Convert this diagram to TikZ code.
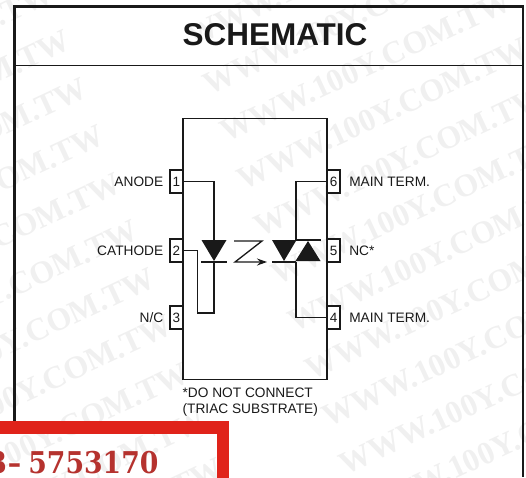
\documentclass[tikz,border=0pt]{standalone}
\usepackage{fontspec}
\setmainfont{Liberation Sans}
\newfontfamily\markfont{Liberation Serif}
\newfontfamily\phonefont{DejaVu Serif}
\usetikzlibrary{arrows.meta, positioning}
\definecolor{signred}{HTML}{E0231A}
\definecolor{phonered}{HTML}{B5322E}
\tikzset{
    pinbox/.style = {draw, rectangle, inner sep = 0pt, minimum width = 13pt, minimum height = 23pt, font = \fontsize{13.5}{15}\selectfont},
    pinlabel/.style = {inner sep = 0pt, font = \fontsize{13.7}{15}\selectfont},
    wire/.style = {line width = 1.3pt},
    watermark/.style = {text = black!6, anchor = north east, inner sep = 0pt, rotate = 25, font = \markfont\bfseries\fontsize{32}{32}\selectfont}
}

\begin{document}
\begin{tikzpicture}[x = 1pt, y = -1pt, line width = 1.3pt, black!90]
                \useasboundingbox (0,0) rectangle (526,477);

                % Watermark:
                \foreach \k in {-1,...,9}
                    \node[watermark] (markA\k) at ({64+17*\k},{28+47.5*\k}) {WWW.100Y.COM.TW};
                \foreach \k in {1,...,13}
                    \node[watermark] (markB\k) at ({454+17*\k},{-154+47.5*\k}) {WWW.100Y.COM.TW};

                % Frame:
                \draw[line width = 2.2pt] (14.5,421) -- (14.5,6.5) -- (523,6.5) -- (523,477);
                \draw (14.5,65.5) -- (523,65.5);
                \node[font = \bfseries\fontsize{31.5}{31.5}\selectfont] (title) at (275,35) {SCHEMATIC};

                % Package:
                \node[draw, rectangle, minimum width = 144pt, minimum height = 260.5pt, inner sep = 0pt] (body) at (255,249) {};
                \node[pinbox, fill = white] (pin1) at (176.5,181.5) {1};
                \node[pinbox, fill = white] (pin2) at (176.5,250.5) {2};
                \node[pinbox, fill = white] (pin3) at (176.5,317.5) {3};
                \node[pinbox, fill = white] (pin6) at (333.5,181.5) {6};
                \node[pinbox, fill = white] (pin5) at (333.5,250.5) {5};
                \node[pinbox, fill = white] (pin4) at (333.5,317.5) {4};

                % Pin labels:
                \node[pinlabel, left = 5.5pt of pin1] (anode) {ANODE};
                \node[pinlabel, left = 5.5pt of pin2] (cathode) {CATHODE};
                \node[pinlabel, left = 5.5pt of pin3] (nc) {N/C};
                \node[pinlabel, right = 8pt of pin6] (mainA) {MAIN TERM.};
                \node[pinlabel, right = 8pt of pin5] (ncstar) {NC*};
                \node[pinlabel, right = 8pt of pin4] (mainB) {MAIN TERM.};

                % LED:
                \coordinate (ledtop) at (214,240);
                \coordinate (ledbot) at (214,262);
                \coordinate (ledend) at (214,313);
                \fill (201.5,240) -- (226.5,240) -- (214,261) -- cycle;
                \draw (201,262) -- (226.5,262);
                \draw[wire] (pin1.east) -| (ledtop);
                \draw[wire] (ledbot) -- (ledend) -- (197.5,313) |- (pin2.east);

                % Light:
                \coordinate (zleft) at (235,262);
                \coordinate (ztip) at (267,262);
                \draw[-{Stealth[length = 10pt, width = 7pt]}] (234,241) -- (262,241) -- (zleft) -- (ztip);

                % Triac:
                \coordinate (triactop) at (296,240);
                \coordinate (triacbot) at (296,262);
                \fill (272,240) -- (296.5,240) -- (284,261) -- cycle;
                \fill (308,241) -- (320.5,261) -- (295.5,261) -- cycle;
                \draw (296,240) -- (321,240);
                \draw (272,262) -- (296,262);
                \draw[wire] (pin6.west) -| (triactop);
                \draw[wire] (pin4.west) -| (triacbot);

                % Footnote:
                \node[pinlabel, anchor = north west, align = left, font = \fontsize{13.7}{16}\selectfont] (note) at (182,387) {*DO NOT CONNECT\\(TRIAC SUBSTRATE)};

                % Sign:
                \draw[signred, line width = 12.5pt] (-10,427.25) -- (223,427.25) -- (223,490);
                \node[text = phonered, anchor = base east, inner sep = 0pt, xscale = 0.89, font = \phonefont\bfseries\fontsize{30}{30}\selectfont] (phone) at (159,473.7) {3\kern1pt–\kern8pt5753170};
            \end{tikzpicture}
\end{document}
